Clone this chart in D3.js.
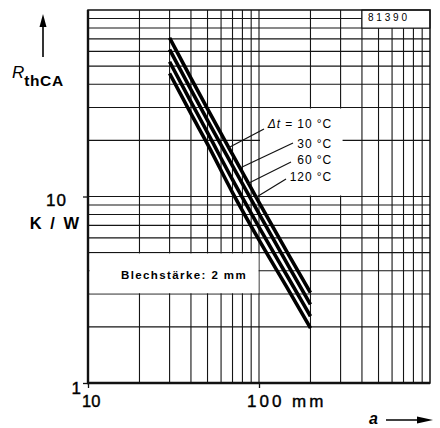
<!DOCTYPE html>
<html>
<head>
<meta charset="utf-8">
<script src="https://cdn.jsdelivr.net/npm/d3@7"></script>
<style>
  body { margin: 0; background: #fff; }
  svg { display: block; font-family: "Liberation Sans", Arial, sans-serif; }
</style>
</head>
<body>
<svg id="chart" width="440" height="428"></svg>
<script>
// distance a (mm) and R_thCA (K/W)
var distances = [30, 40, 50, 70, 100, 150, 200];
var rth10 = [70.8, 43.1, 29.5, 16.8, 9.3, 4.82, 3.05];
var rth30 = [61.4, 37.4, 25.6, 14.6, 8.1, 4.18, 2.64];
var rth60 = [52.8, 32.2, 22.0, 12.3, 6.85, 3.6, 2.28];
var rth120 = [45.7, 27.8, 19.1, 10.5, 5.85, 3.11, 1.97];
var seriesNames = ["10", "30", "60", "120"];
var xTickLabels = ["10", "100 mm"];
var yTickLabels = ["1", "10"];

var svg = d3.select("#chart");

var x = d3.scaleLog().domain([10, 1000]).range([88, 430]);
var y = d3.scaleLog().domain([1, 100]).range([383, 10]);

// grid
var grid = svg.append("g").attr("stroke", "#151515").attr("stroke-width", 1.1);
grid.selectAll("line.v")
    .data(x.ticks().filter(function(d) { return d > 10 && d < 1000; }))
    .enter().append("line")
    .attr("x1", function(d) { return x(d); })
    .attr("x2", function(d) { return x(d); })
    .attr("y1", y(100)).attr("y2", y(1));
grid.selectAll("line.h")
    .data(y.ticks().filter(function(d) { return d > 1 && d < 100; }))
    .enter().append("line")
    .attr("y1", function(d) { return y(d); })
    .attr("y2", function(d) { return y(d); })
    .attr("x1", x(10)).attr("x2", x(1000));

// white label boxes over the grid
svg.append("rect")
    .attr("x", x(100) + 1).attr("y", y(30) + 1)
    .attr("width", x(300) - x(100) + 1).attr("height", y(10) - y(30) - 2)
    .attr("fill", "#fff");
svg.append("rect")
    .attr("x", x(10) + 1.5).attr("y", y(5) + 0.8)
    .attr("width", x(100) - x(10) - 2).attr("height", y(3) - y(5) - 1.6)
    .attr("fill", "#fff");
svg.append("rect")
    .attr("x", x(400)).attr("y", y(100))
    .attr("width", x(1000) - x(400)).attr("height", y(80) - y(100))
    .attr("fill", "#fff").attr("stroke", "#151515").attr("stroke-width", 1.1);

svg.append("text")
    .attr("x", 368).attr("y", 21)
    .attr("font-size", 10).attr("letter-spacing", 2.8)
    .text("81390");
svg.append("text")
    .attr("x", 184).attr("y", 279)
    .attr("text-anchor", "middle")
    .attr("font-size", 11.5).attr("font-weight", "bold").attr("letter-spacing", 1.4)
    .text("Blechstärke: 2 mm");

// frame and axes
svg.append("rect")
    .attr("x", x(10)).attr("y", y(100))
    .attr("width", x(1000) - x(10)).attr("height", y(1) - y(100))
    .attr("fill", "none").attr("stroke", "#111").attr("stroke-width", 1.5);
svg.append("line")
    .attr("x1", x(10)).attr("x2", x(10)).attr("y1", y(100)).attr("y2", y(1) + 1)
    .attr("stroke", "#111").attr("stroke-width", 2.4);
svg.append("line")
    .attr("x1", x(10) - 1).attr("x2", x(1000)).attr("y1", y(1)).attr("y2", y(1))
    .attr("stroke", "#111").attr("stroke-width", 2.4);

var xAxis = svg.append("g")
    .attr("transform", "translate(0," + y(1) + ")")
    .call(d3.axisBottom(x).tickValues([10, 100]).tickSize(5).tickFormat(""));
var yAxis = svg.append("g")
    .attr("transform", "translate(" + x(10) + ",0)")
    .call(d3.axisLeft(y).tickValues([1, 10]).tickSize(5).tickFormat(""));
[xAxis, yAxis].forEach(function(a) {
    a.select(".domain").remove();
    a.selectAll("line").attr("stroke", "#111").attr("stroke-width", 1.3);
});

// curves
var allSeries = [rth10, rth30, rth60, rth120];
var line = d3.line()
    .x(function(d) { return x(d[0]); })
    .y(function(d) { return y(d[1]); })
    .curve(d3.curveMonotoneX);
svg.append("g").selectAll("path")
    .data(allSeries)
    .enter().append("path")
    .attr("d", function(s) { return line(distances.map(function(a, i) { return [a, s[i]]; })); })
    .attr("fill", "none").attr("stroke", "#000").attr("stroke-width", 3.6);

// curve labels with leaders
var labelY = [128, 148, 164, 181];
var leaderEnd = [[228, 148], [240, 168], [247, 184], [255, 198]];
var leaderStart = [[264, 129], [293, 143], [291, 162], [286, 179]];
svg.append("g").selectAll("line")
    .data(seriesNames)
    .enter().append("line")
    .attr("x1", function(d, i) { return leaderStart[i][0]; })
    .attr("y1", function(d, i) { return leaderStart[i][1]; })
    .attr("x2", function(d, i) { return leaderEnd[i][0]; })
    .attr("y2", function(d, i) { return leaderEnd[i][1]; })
    .attr("stroke", "#111").attr("stroke-width", 1.2);
var labels = svg.append("g").selectAll("text")
    .data(seriesNames)
    .enter().append("text")
    .attr("x", 332).attr("y", function(d, i) { return labelY[i]; })
    .attr("text-anchor", "end").attr("font-size", 12).attr("letter-spacing", 0.9);
labels.each(function(d, i) {
    var t = d3.select(this);
    if (i == 0) {
        t.append("tspan").attr("font-style", "italic").text("\u0394t");
        t.append("tspan").text(" = ");
    }
    t.append("tspan").text(d + " \u00b0C");
});

// tick labels
svg.append("text").attr("x", 67).attr("y", 206).attr("text-anchor", "end").attr("letter-spacing", 1)
    .attr("font-size", 17).attr("stroke", "#000").attr("stroke-width", 0.4).text(yTickLabels[1]);
svg.append("text").attr("x", 81).attr("y", 394).attr("text-anchor", "end")
    .attr("font-size", 17).attr("stroke", "#000").attr("stroke-width", 0.4).text(yTickLabels[0]);
svg.append("text").attr("x", 82).attr("y", 407)
    .attr("font-size", 16.5).attr("stroke", "#000").attr("stroke-width", 0.4).text(xTickLabels[0]);
svg.append("text").attr("x", 247).attr("y", 407).attr("letter-spacing", 3)
    .attr("font-size", 17).attr("stroke", "#000").attr("stroke-width", 0.4).text(xTickLabels[1]);
svg.append("text").attr("x", 81).attr("y", 229).attr("text-anchor", "end")
    .attr("font-size", 16.5).attr("font-weight", "bold").attr("letter-spacing", 2).text("K / W");

// axis titles with arrows
var rt = svg.append("text").attr("x", 12).attr("y", 78);
rt.append("tspan").attr("font-size", 17).attr("font-style", "italic").text("R");
rt.append("tspan").attr("font-size", 15.5).attr("font-weight", "bold").attr("dy", 8).attr("letter-spacing", 0.6).text("thCA");

svg.append("line").attr("x1", 43).attr("x2", 43).attr("y1", 57).attr("y2", 24)
    .attr("stroke", "#000").attr("stroke-width", 1.6);
svg.append("path").attr("d", "M43,14 L39.5,27 L46.5,27 Z").attr("fill", "#000");

svg.append("text").attr("x", 369).attr("y", 424)
    .attr("font-size", 16).attr("font-style", "italic").attr("font-weight", "bold").text("a");
svg.append("line").attr("x1", 386).attr("x2", 420).attr("y1", 420).attr("y2", 420)
    .attr("stroke", "#000").attr("stroke-width", 1.6);
svg.append("path").attr("d", "M433,420 L417,416.5 L417,423.5 Z").attr("fill", "#000");
</script>
</body>
</html>
